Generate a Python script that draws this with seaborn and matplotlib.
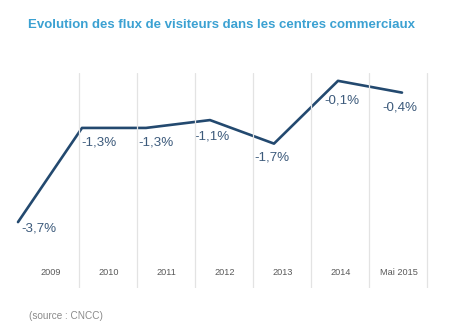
import matplotlib
matplotlib.use("Agg")
import matplotlib.pyplot as plt
import matplotlib.transforms as mtransforms
import seaborn as sns

# Données (source : CNCC)
categories = ["2009", "2010", "2011", "2012", "2013", "2014", "Mai 2015"]
evolution = [-3.7, -1.3, -1.3, -1.1, -1.7, -0.1, -0.4]
value_labels = ["-3,7%", "-1,3%", "-1,3%", "-1,1%", "-1,7%", "-0,1%", "-0,4%"]

# Décalage des étiquettes (pixels, x vers la droite / y vers le bas)
label_offsets = [(21, 6), (17, 15), (10, 15), (2, 16), (-2, 14), (4, 20), (-2, 15)]

sns.set_theme(style="white")
plt.rcParams["font.family"] = ["Liberation Sans", "DejaVu Sans"]

W, H = 460, 329
fig = plt.figure(figsize=(W / 100, H / 100), dpi=100)
fig.patch.set_facecolor("white")

# Zone du graphique : x 10..440 px, y 73..288 px
left, right, top, bottom = 10, 440, 73, 288
ax = fig.add_axes([left / W, 1 - bottom / H, (right - left) / W, (bottom - top) / H])

# Courbe
x_idx = list(range(len(evolution)))
sns.lineplot(x=x_idx, y=evolution, ax=ax, color="#23496f", linewidth=1.9)
ax.set_xlim(-0.125, 6.594)
ax.set_ylim(-5.38, 0.10)

for i, (v, lab) in enumerate(zip(evolution, value_labels)):
    dx, dy = label_offsets[i]
    ax.annotate(lab, (i, v), xytext=(dx * 0.72, -dy * 0.72), textcoords="offset points",
                ha="center", va="center", fontsize=9.6, color="#3c5a7b")

# Axe des catégories (colonnes séparées par des lignes verticales)
ax2 = ax.twiny()
ax2.set_xlim(-0.698, 6.716)
for i in range(len(categories)):
    ax2.axvline(i + 0.5, color="#e3e3e3", linewidth=0.9, zorder=0)
trans = mtransforms.blended_transform_factory(ax2.transData, ax2.transAxes)
for i, cat in enumerate(categories):
    ax2.text(i, 0.07, cat, transform=trans, ha="center", va="center",
             fontsize=6.6, color="#5a5a5a")

for a in (ax, ax2):
    a.set_xticks([])
    a.set_yticks([])
    for s in a.spines.values():
        s.set_visible(False)
    a.patch.set_alpha(0)

fig.text(28 / W, 1 - 25 / H, "Evolution des flux de visiteurs dans les centres commerciaux",
         ha="left", va="center", fontsize=9.5, fontweight="bold", color="#3ba1d2")
fig.text(29 / W, 1 - 316 / H, "(source : CNCC)", ha="left", va="center",
         fontsize=7.2, color="#8a8a8a")

fig.savefig("out.png", dpi=100, facecolor="white")
